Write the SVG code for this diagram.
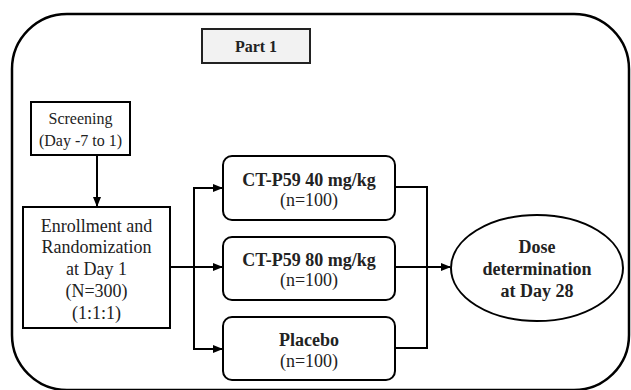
<svg xmlns="http://www.w3.org/2000/svg" width="631" height="390" viewBox="0 0 631 390">
<style>
.box{fill:#fff;stroke:#000;stroke-width:2}
.t{font-family:"Liberation Serif","Times New Roman",serif;font-size:18px;fill:#222;text-anchor:middle}
.b{font-weight:bold}
.c{fill:none;stroke:#000;stroke-width:2}
</style>
<defs>
<marker id="ah" markerWidth="10" markerHeight="8" refX="9" refY="4" orient="auto" markerUnits="userSpaceOnUse">
<path d="M0,0 L10,4 L0,8 Z" fill="#000"/>
</marker>
</defs>
<rect x="12" y="14" width="617" height="376" rx="55" ry="55" fill="#fff" stroke="#000" stroke-width="2.5"/>
<g id="part1">
<rect x="202" y="29" width="108" height="34" fill="#f2f2f2" stroke="#222" stroke-width="2"/>
<text class="t b" x="256" y="52" style="font-size:16px">Part 1</text>
</g>
<g id="screening">
<rect class="box" x="31" y="102" width="99" height="53"/>
<text class="t" x="80.5" y="124" style="font-size:16px">Screening</text>
<text class="t" x="80.5" y="146" style="font-size:16px">(Day -7 to 1)</text>
</g>
<g id="enrollment">
<rect class="box" x="23" y="207" width="147" height="121"/>
<text class="t" x="96.5" y="232">Enrollment and</text>
<text class="t" x="96.5" y="253">Randomization</text>
<text class="t" x="96.5" y="275">at Day 1</text>
<text class="t" x="96.5" y="297">(N=300)</text>
<text class="t" x="96.5" y="319">(1:1:1)</text>
</g>
<g id="arm40">
<rect class="box" x="223" y="156" width="172" height="64" rx="9"/>
<text class="t b" x="309" y="186">CT-P59 40 mg/kg</text>
<text class="t" x="309" y="206">(n=100)</text>
</g>
<g id="arm80">
<rect class="box" x="223" y="237" width="172" height="63" rx="9"/>
<text class="t b" x="309" y="266">CT-P59 80 mg/kg</text>
<text class="t" x="309" y="286">(n=100)</text>
</g>
<g id="placebo">
<rect class="box" x="223" y="317" width="172" height="63" rx="9"/>
<text class="t b" x="309" y="346">Placebo</text>
<text class="t" x="309" y="367">(n=100)</text>
</g>
<g id="dose">
<ellipse class="box" cx="537" cy="268" rx="86" ry="53"/>
<text class="t b" x="537" y="253">Dose</text>
<text class="t b" x="537" y="275">determination</text>
<text class="t b" x="537" y="297">at Day 28</text>
</g>
<g id="connectors">
<line class="c" x1="97" y1="155" x2="97" y2="206" marker-end="url(#ah)"/>
<line class="c" x1="170" y1="267" x2="222" y2="267" marker-end="url(#ah)"/>
<line class="c" x1="194" y1="188" x2="194" y2="349"/>
<line class="c" x1="193" y1="188" x2="222" y2="188" marker-end="url(#ah)"/>
<line class="c" x1="193" y1="349" x2="222" y2="349" marker-end="url(#ah)"/>
<polyline class="c" points="395,187 427,187 427,348 395,348"/>
<line class="c" x1="395" y1="267" x2="450" y2="267" marker-end="url(#ah)"/>
</g>
</svg>
